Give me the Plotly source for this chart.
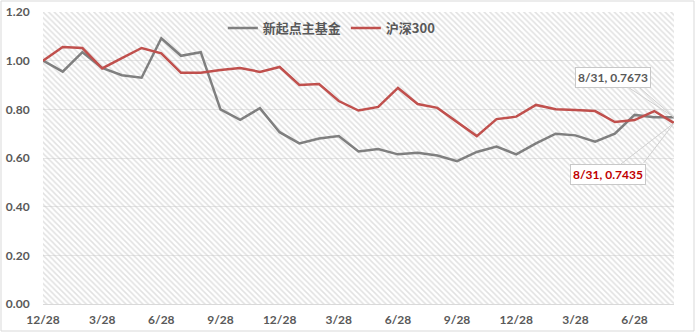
import plotly.graph_objects as go

# ---- data ----
dates = ["12/28", "1/28", "2/28", "3/28", "4/28", "5/28", "6/28", "7/28", "8/28",
         "9/28", "10/28", "11/28", "12/28", "1/28", "2/28", "3/28", "4/28", "5/28",
         "6/28", "7/28", "8/28", "9/28", "10/28", "11/28", "12/28", "1/28", "2/28",
         "3/28", "4/28", "5/28", "6/28", "7/28", "8/31"]
fund = [1.00, 0.955, 1.035, 0.97, 0.94, 0.93, 1.092, 1.02, 1.035,
        0.80, 0.757, 0.805, 0.706, 0.66, 0.68, 0.69, 0.627, 0.637,
        0.615, 0.622, 0.61, 0.587, 0.625, 0.647, 0.615, 0.66, 0.70,
        0.693, 0.667, 0.70, 0.777, 0.767, 0.7673]
hs300 = [1.00, 1.056, 1.052, 0.968, 1.01, 1.052, 1.03, 0.95, 0.95,
         0.962, 0.97, 0.954, 0.974, 0.90, 0.904, 0.834, 0.795, 0.81,
         0.888, 0.822, 0.806, 0.748, 0.69, 0.76, 0.77, 0.818, 0.80,
         0.797, 0.793, 0.748, 0.756, 0.793, 0.7435]
series_names = ["新起点主基金", "沪深300"]
ytick_vals = [0.0, 0.2, 0.4, 0.6, 0.8, 1.0, 1.2]
ytick_text = ["0.00", "0.20", "0.40", "0.60", "0.80", "1.00", "1.20"]
tick_step = 3

# ---- styling ----
GRAY = "#7f7f7f"
RED = "#c0504d"
TXT = "#595959"
FONT = "Lato, Noto Sans CJK SC, sans-serif"
CJK = "Noto Sans CJK SC, Lato, sans-serif"

xs = list(range(len(dates)))
x_lo, x_hi = xs[0], xs[-1]
y_lo, y_hi = ytick_vals[0], ytick_vals[-1]

fig = go.Figure()

# hatched plot-area background
fig.add_trace(go.Scatter(
    x=[x_lo, x_hi, x_hi, x_lo, x_lo], y=[y_lo, y_lo, y_hi, y_hi, y_lo],
    mode="lines", line=dict(width=0), fill="toself",
    fillcolor="rgba(0,0,0,0)",
    fillpattern=dict(shape="\\", size=4, solidity=0.38, fgcolor="#c4c4c4",
                     bgcolor="rgba(255,255,255,0)"),
    hoverinfo="skip", showlegend=False))

fig.add_trace(go.Scatter(x=xs, y=fund, mode="lines", name=series_names[0],
                         line=dict(color=GRAY, width=2.5)))
fig.add_trace(go.Scatter(x=xs, y=hs300, mode="lines", name=series_names[1],
                         line=dict(color=RED, width=2.5)))

tickvals = xs[::tick_step]
ticktext = [dates[i] for i in tickvals]

fig.update_xaxes(range=[x_lo, x_hi], tickvals=tickvals, ticktext=ticktext,
                 showgrid=False, zeroline=False, showline=True, linecolor="#d9d9d9",
                 linewidth=1, ticks="outside", ticklen=5, tickcolor="rgba(0,0,0,0)",
                 automargin=False,
                 tickfont=dict(family=FONT, size=12, color=TXT, weight="bold"))
fig.update_yaxes(range=[y_lo, y_hi], tickvals=ytick_vals, ticktext=ytick_text,
                 showgrid=True, gridcolor="#e6e6e6", gridwidth=1, zeroline=False,
                 showline=False, ticks="outside", ticklen=10, tickcolor="rgba(0,0,0,0)",
                 automargin=False,
                 tickfont=dict(family=FONT, size=12, color=TXT, weight="bold"))

# end-point labels
last = xs[-1]
fig.add_annotation(x=last, y=fund[-1], text=f"{dates[-1]}, {fund[-1]:.4f}",
                   showarrow=True, arrowhead=0, arrowwidth=1, arrowcolor="#d0d0d0",
                   ax=-61, ay=-40, bgcolor="white", bordercolor="#c8c8c8", borderwidth=1,
                   borderpad=2, font=dict(family=FONT, size=12, color=TXT, weight="bold"))
fig.add_annotation(x=last, y=fund[-1], text=" ", showarrow=True, arrowhead=0,
                   arrowwidth=1, arrowcolor="#d0d0d0", ax=-36, ay=-31,
                   font=dict(size=1))
fig.add_annotation(x=last, y=hs300[-1], text=f"{dates[-1]}, {hs300[-1]:.4f}",
                   showarrow=True, arrowhead=0, arrowwidth=1, arrowcolor="#d0d0d0",
                   ax=-66, ay=51, bgcolor="white", bordercolor="#c8c8c8", borderwidth=1,
                   borderpad=2, font=dict(family=FONT, size=12, color="#c00000", weight="bold"))
fig.add_annotation(x=last, y=hs300[-1], text=" ", showarrow=True, arrowhead=0,
                   arrowwidth=1, arrowcolor="#d0d0d0", ax=-32, ay=42,
                   font=dict(size=1))

# outer chart border
W, H = 696, 333
ml, mr, mt, mb = 43, 22, 12, 29
pw, ph = W - ml - mr, H - mt - mb
fig.add_shape(type="rect", xref="paper", yref="paper",
              x0=(1 - ml) / pw, x1=(W - 2 - ml) / pw,
              y0=-(mb - 2) / ph, y1=(ph + mt - 1) / ph,
              line=dict(color="#d9d9d9", width=1), layer="above")

fig.update_layout(
    width=W, height=H, margin=dict(l=ml, r=mr, t=mt, b=mb, autoexpand=False),
    paper_bgcolor="white", plot_bgcolor="white",
    showlegend=True,
    legend=dict(orientation="h", x=0.285, y=0.945, xanchor="left", yanchor="middle",
                bgcolor="rgba(255,255,255,0)", itemwidth=30,
                font=dict(family=CJK, size=13, color=TXT, weight="bold")),
)

fig.write_html("out.html")
